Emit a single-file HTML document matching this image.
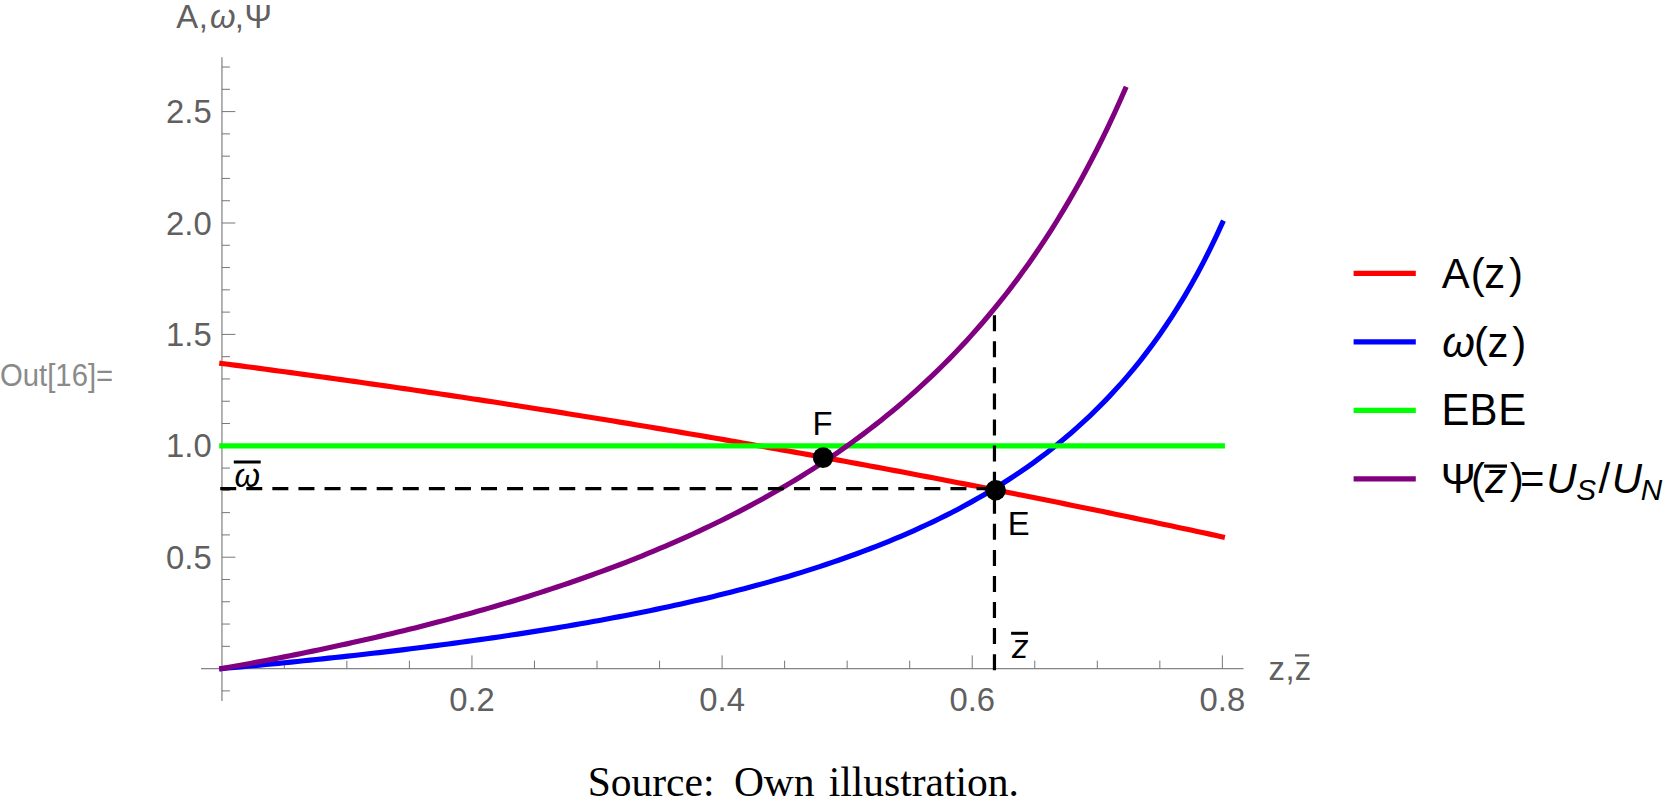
<!DOCTYPE html>
<html lang="en"><head><meta charset="utf-8"><title>Plot</title>
<style>html,body{margin:0;padding:0;background:#fff;}body{width:1663px;height:809px;overflow:hidden;}svg{display:block;}text{font-family:"Liberation Sans",Arial,Helvetica,sans-serif;}.tk{font-size:32.8px;fill:#606060;}.lg{font-size:41.9px;fill:#000;}.bl{font-size:32.8px;fill:#000;}.it{font-style:italic;}.sub{font-size:29.7px;font-style:italic;}.cap{font-family:"Liberation Serif","Times New Roman",Times,serif;font-size:41.5px;fill:#000;}.out{font-size:29.3px;fill:#8a8a8a;}</style></head><body>
<svg width="1663" height="809" viewBox="0 0 1663 809">
<rect width="1663" height="809" fill="#fff"/>
<g stroke="#858585" stroke-width="1.25" fill="none">
<line x1="221.95" y1="57.3" x2="221.95" y2="700.9"/>
<line x1="201" y1="668.60" x2="1243.5" y2="668.60"/>
</g>
<g stroke="#707070" stroke-width="0.95" fill="none">
<line x1="221.95" y1="690.88" x2="229.95" y2="690.88"/>
<line x1="221.95" y1="646.32" x2="229.95" y2="646.32"/>
<line x1="221.95" y1="624.04" x2="229.95" y2="624.04"/>
<line x1="221.95" y1="601.76" x2="229.95" y2="601.76"/>
<line x1="221.95" y1="579.48" x2="229.95" y2="579.48"/>
<line x1="221.95" y1="557.20" x2="235.35" y2="557.20"/>
<line x1="221.95" y1="534.92" x2="229.95" y2="534.92"/>
<line x1="221.95" y1="512.64" x2="229.95" y2="512.64"/>
<line x1="221.95" y1="490.36" x2="229.95" y2="490.36"/>
<line x1="221.95" y1="468.08" x2="229.95" y2="468.08"/>
<line x1="221.95" y1="445.80" x2="235.35" y2="445.80"/>
<line x1="221.95" y1="423.52" x2="229.95" y2="423.52"/>
<line x1="221.95" y1="401.24" x2="229.95" y2="401.24"/>
<line x1="221.95" y1="378.96" x2="229.95" y2="378.96"/>
<line x1="221.95" y1="356.68" x2="229.95" y2="356.68"/>
<line x1="221.95" y1="334.40" x2="235.35" y2="334.40"/>
<line x1="221.95" y1="312.12" x2="229.95" y2="312.12"/>
<line x1="221.95" y1="289.84" x2="229.95" y2="289.84"/>
<line x1="221.95" y1="267.56" x2="229.95" y2="267.56"/>
<line x1="221.95" y1="245.28" x2="229.95" y2="245.28"/>
<line x1="221.95" y1="223.00" x2="235.35" y2="223.00"/>
<line x1="221.95" y1="200.72" x2="229.95" y2="200.72"/>
<line x1="221.95" y1="178.44" x2="229.95" y2="178.44"/>
<line x1="221.95" y1="156.16" x2="229.95" y2="156.16"/>
<line x1="221.95" y1="133.88" x2="229.95" y2="133.88"/>
<line x1="221.95" y1="111.60" x2="235.35" y2="111.60"/>
<line x1="221.95" y1="89.32" x2="229.95" y2="89.32"/>
<line x1="221.95" y1="67.04" x2="229.95" y2="67.04"/>
<line x1="284.34" y1="668.60" x2="284.34" y2="660.60"/>
<line x1="346.87" y1="668.60" x2="346.87" y2="660.60"/>
<line x1="409.41" y1="668.60" x2="409.41" y2="660.60"/>
<line x1="471.94" y1="668.60" x2="471.94" y2="655.40"/>
<line x1="534.48" y1="668.60" x2="534.48" y2="660.60"/>
<line x1="597.01" y1="668.60" x2="597.01" y2="660.60"/>
<line x1="659.55" y1="668.60" x2="659.55" y2="660.60"/>
<line x1="722.08" y1="668.60" x2="722.08" y2="655.40"/>
<line x1="784.62" y1="668.60" x2="784.62" y2="660.60"/>
<line x1="847.15" y1="668.60" x2="847.15" y2="660.60"/>
<line x1="909.69" y1="668.60" x2="909.69" y2="660.60"/>
<line x1="972.22" y1="668.60" x2="972.22" y2="655.40"/>
<line x1="1034.76" y1="668.60" x2="1034.76" y2="660.60"/>
<line x1="1097.29" y1="668.60" x2="1097.29" y2="660.60"/>
<line x1="1159.83" y1="668.60" x2="1159.83" y2="660.60"/>
<line x1="1222.36" y1="668.60" x2="1222.36" y2="655.40"/>
</g>
<text class="tk" transform="matrix(1 0 0 1.04 211.70 568.70)" text-anchor="end">0.5</text>
<text class="tk" transform="matrix(1 0 0 1.04 211.70 457.30)" text-anchor="end">1.0</text>
<text class="tk" transform="matrix(1 0 0 1.04 211.70 345.90)" text-anchor="end">1.5</text>
<text class="tk" transform="matrix(1 0 0 1.04 211.70 234.50)" text-anchor="end">2.0</text>
<text class="tk" transform="matrix(1 0 0 1.04 211.70 123.10)" text-anchor="end">2.5</text>
<text class="tk" transform="matrix(1 0 0 1.04 471.94 711.20)" text-anchor="middle">0.2</text>
<text class="tk" transform="matrix(1 0 0 1.04 722.08 711.20)" text-anchor="middle">0.4</text>
<text class="tk" transform="matrix(1 0 0 1.04 972.22 711.20)" text-anchor="middle">0.6</text>
<text class="tk" transform="matrix(1 0 0 1.04 1222.36 711.20)" text-anchor="middle">0.8</text>
<text class="tk" y="27.7"><tspan x="176.24">A</tspan><tspan x="198.80">,</tspan><tspan class="it" x="209.93">ω</tspan><tspan x="234.85">,</tspan><tspan x="244.38">Ψ</tspan></text>
<text class="tk" y="680.0"><tspan x="1268.47">z</tspan><tspan x="1285.45">,</tspan><tspan x="1294.67">z</tspan></text>
<line x1="1295.0" y1="655.4" x2="1309.2" y2="655.4" stroke="#606060" stroke-width="2.3"/>
<g fill="none" stroke-width="5.15" stroke-linecap="square" stroke-linejoin="round">
<path d="M221.80,363.43 L228.09,364.25 L234.39,365.08 L240.68,365.91 L246.97,366.74 L253.26,367.57 L259.56,368.41 L265.85,369.25 L272.14,370.10 L278.44,370.95 L284.73,371.80 L291.02,372.65 L297.31,373.51 L303.61,374.37 L309.90,375.24 L316.19,376.11 L322.49,376.98 L328.78,377.86 L335.07,378.74 L341.36,379.62 L347.66,380.51 L353.95,381.40 L360.24,382.29 L366.54,383.19 L372.83,384.08 L379.12,384.99 L385.41,385.89 L391.71,386.80 L398.00,387.72 L404.29,388.64 L410.58,389.56 L416.88,390.48 L423.17,391.41 L429.46,392.34 L435.76,393.27 L442.05,394.21 L448.34,395.15 L454.63,396.09 L460.93,397.04 L467.22,397.99 L473.51,398.95 L479.81,399.90 L486.10,400.86 L492.39,401.83 L498.68,402.80 L504.98,403.77 L511.27,404.74 L517.56,405.72 L523.86,406.70 L530.15,407.69 L536.44,408.68 L542.73,409.67 L549.03,410.66 L555.32,411.66 L561.61,412.66 L567.91,413.67 L574.20,414.68 L580.49,415.69 L586.78,416.71 L593.08,417.73 L599.37,418.75 L605.66,419.77 L611.96,420.80 L618.25,421.84 L624.54,422.87 L630.83,423.91 L637.13,424.95 L643.42,426.00 L649.71,427.05 L656.01,428.10 L662.30,429.16 L668.59,430.22 L674.88,431.28 L681.18,432.35 L687.47,433.42 L693.76,434.49 L700.06,435.57 L706.35,436.65 L712.64,437.74 L718.93,438.82 L725.23,439.91 L731.52,441.01 L737.81,442.11 L744.10,443.21 L750.40,444.31 L756.69,445.42 L762.98,446.53 L769.28,447.64 L775.57,448.76 L781.86,449.88 L788.15,451.01 L794.45,452.14 L800.74,453.27 L807.03,454.40 L813.33,455.54 L819.62,456.68 L825.91,457.83 L832.20,458.98 L838.50,460.13 L844.79,461.28 L851.08,462.44 L857.38,463.61 L863.67,464.77 L869.96,465.94 L876.25,467.11 L882.55,468.29 L888.84,469.47 L895.13,470.65 L901.43,471.84 L907.72,473.03 L914.01,474.22 L920.30,475.42 L926.60,476.62 L932.89,477.82 L939.18,479.03 L945.48,480.24 L951.77,481.45 L958.06,482.67 L964.35,483.89 L970.65,485.11 L976.94,486.34 L983.23,487.57 L989.53,488.80 L995.82,490.04 L1002.11,491.28 L1008.40,492.52 L1014.70,493.77 L1020.99,495.02 L1027.28,496.28 L1033.58,497.53 L1039.87,498.80 L1046.16,500.06 L1052.45,501.33 L1058.75,502.60 L1065.04,503.87 L1071.33,505.15 L1077.62,506.43 L1083.92,507.72 L1090.21,509.01 L1096.50,510.30 L1102.80,511.59 L1109.09,512.89 L1115.38,514.19 L1121.67,515.50 L1127.97,516.81 L1134.26,518.12 L1140.55,519.44 L1146.85,520.76 L1153.14,522.08 L1159.43,523.40 L1165.72,524.73 L1172.02,526.07 L1178.31,527.40 L1184.60,528.74 L1190.90,530.09 L1197.19,531.43 L1203.48,532.78 L1209.77,534.13 L1216.07,535.49 L1222.36,536.85" stroke="#ff0000"/>
<path d="M221.80,668.60 L228.09,668.04 L234.39,667.47 L240.68,666.89 L246.97,666.31 L253.26,665.73 L259.56,665.13 L265.85,664.53 L272.14,663.93 L278.44,663.32 L284.73,662.70 L291.02,662.07 L297.31,661.44 L303.61,660.80 L309.90,660.16 L316.19,659.51 L322.49,658.85 L328.78,658.18 L335.07,657.51 L341.36,656.82 L347.66,656.14 L353.95,655.44 L360.24,654.73 L366.54,654.02 L372.83,653.30 L379.12,652.57 L385.41,651.83 L391.71,651.09 L398.00,650.33 L404.29,649.57 L410.58,648.80 L416.88,648.01 L423.17,647.22 L429.46,646.42 L435.76,645.61 L442.05,644.79 L448.34,643.96 L454.63,643.12 L460.93,642.27 L467.22,641.40 L473.51,640.53 L479.81,639.65 L486.10,638.75 L492.39,637.84 L498.68,636.93 L504.98,636.00 L511.27,635.05 L517.56,634.10 L523.86,633.13 L530.15,632.15 L536.44,631.15 L542.73,630.15 L549.03,629.13 L555.32,628.09 L561.61,627.04 L567.91,625.98 L574.20,624.90 L580.49,623.80 L586.78,622.69 L593.08,621.57 L599.37,620.43 L605.66,619.27 L611.96,618.09 L618.25,616.90 L624.54,615.69 L630.83,614.46 L637.13,613.21 L643.42,611.95 L649.71,610.66 L656.01,609.36 L662.30,608.03 L668.59,606.69 L674.88,605.32 L681.18,603.93 L687.47,602.52 L693.76,601.08 L700.06,599.63 L706.35,598.15 L712.64,596.64 L718.93,595.11 L725.23,593.55 L731.52,591.97 L737.81,590.36 L744.10,588.72 L750.40,587.05 L756.69,585.36 L762.98,583.63 L769.28,581.87 L775.57,580.08 L781.86,578.26 L788.15,576.41 L794.45,574.52 L800.74,572.59 L807.03,570.63 L813.33,568.63 L819.62,566.60 L825.91,564.52 L832.20,562.40 L838.50,560.24 L844.79,558.04 L851.08,555.79 L857.38,553.50 L863.67,551.16 L869.96,548.77 L876.25,546.32 L882.55,543.83 L888.84,541.29 L895.13,538.68 L901.43,536.02 L907.72,533.31 L914.01,530.53 L920.30,527.68 L926.60,524.78 L932.89,521.80 L939.18,518.75 L945.48,515.63 L951.77,512.44 L958.06,509.17 L964.35,505.81 L970.65,502.37 L976.94,498.85 L983.23,495.23 L989.53,491.52 L995.82,487.71 L1002.11,483.80 L1008.40,479.79 L1014.70,475.66 L1020.99,471.42 L1027.28,467.06 L1033.58,462.57 L1039.87,457.95 L1046.16,453.20 L1052.45,448.30 L1058.75,443.26 L1065.04,438.06 L1071.33,432.69 L1077.62,427.16 L1083.92,421.45 L1090.21,415.54 L1096.50,409.44 L1102.80,403.14 L1109.09,396.61 L1115.38,389.85 L1121.67,382.86 L1127.97,375.60 L1134.26,368.08 L1140.55,360.27 L1146.85,352.16 L1153.14,343.73 L1159.43,334.96 L1165.72,325.83 L1172.02,316.32 L1178.31,306.40 L1184.60,296.05 L1190.90,285.23 L1197.19,273.93 L1203.48,262.09 L1209.77,249.68 L1216.07,236.67 L1222.36,223.00" stroke="#0000ff"/>
<path d="M221.80,445.80 L1222.36,445.80" stroke="#00ff00"/>
<path d="M221.80,668.60 L227.48,667.58 L233.16,666.56 L238.84,665.52 L244.53,664.48 L250.21,663.42 L255.89,662.36 L261.57,661.28 L267.25,660.20 L272.93,659.10 L278.62,658.00 L284.30,656.88 L289.98,655.75 L295.66,654.62 L301.34,653.47 L307.02,652.31 L312.71,651.14 L318.39,649.95 L324.07,648.76 L329.75,647.55 L335.43,646.33 L341.11,645.10 L346.80,643.86 L352.48,642.60 L358.16,641.34 L363.84,640.05 L369.52,638.76 L375.20,637.45 L380.89,636.13 L386.57,634.79 L392.25,633.45 L397.93,632.08 L403.61,630.70 L409.29,629.31 L414.98,627.90 L420.66,626.48 L426.34,625.04 L432.02,623.59 L437.70,622.11 L443.38,620.63 L449.07,619.12 L454.75,617.60 L460.43,616.07 L466.11,614.51 L471.79,612.94 L477.47,611.35 L483.16,609.74 L488.84,608.12 L494.52,606.47 L500.20,604.81 L505.88,603.12 L511.56,601.42 L517.25,599.69 L522.93,597.95 L528.61,596.18 L534.29,594.39 L539.97,592.58 L545.65,590.75 L551.34,588.90 L557.02,587.02 L562.70,585.12 L568.38,583.19 L574.06,581.24 L579.74,579.27 L585.42,577.27 L591.11,575.25 L596.79,573.19 L602.47,571.12 L608.15,569.01 L613.83,566.88 L619.51,564.72 L625.20,562.53 L630.88,560.31 L636.56,558.06 L642.24,555.77 L647.92,553.46 L653.60,551.12 L659.29,548.74 L664.97,546.33 L670.65,543.88 L676.33,541.40 L682.01,538.89 L687.69,536.34 L693.38,533.75 L699.06,531.12 L704.74,528.45 L710.42,525.75 L716.10,523.00 L721.78,520.21 L727.47,517.38 L733.15,514.51 L738.83,511.59 L744.51,508.63 L750.19,505.61 L755.87,502.56 L761.56,499.45 L767.24,496.29 L772.92,493.08 L778.60,489.82 L784.28,486.50 L789.96,483.13 L795.65,479.71 L801.33,476.22 L807.01,472.68 L812.69,469.07 L818.37,465.40 L824.05,461.67 L829.74,457.87 L835.42,454.01 L841.10,450.07 L846.78,446.06 L852.46,441.98 L858.14,437.83 L863.83,433.59 L869.51,429.28 L875.19,424.88 L880.87,420.40 L886.55,415.84 L892.23,411.18 L897.92,406.43 L903.60,401.59 L909.28,396.65 L914.96,391.60 L920.64,386.46 L926.32,381.21 L932.00,375.84 L937.69,370.37 L943.37,364.77 L949.05,359.06 L954.73,353.21 L960.41,347.24 L966.09,341.14 L971.78,334.89 L977.46,328.51 L983.14,321.97 L988.82,315.28 L994.50,308.43 L1000.18,301.42 L1005.87,294.24 L1011.55,286.88 L1017.23,279.33 L1022.91,271.60 L1028.59,263.67 L1034.27,255.53 L1039.96,247.17 L1045.64,238.60 L1051.32,229.79 L1057.00,220.75 L1062.68,211.45 L1068.36,201.89 L1074.05,192.06 L1079.73,181.94 L1085.41,171.53 L1091.09,160.80 L1096.77,149.76 L1102.45,138.37 L1108.14,126.63 L1113.82,114.51 L1119.50,102.01 L1125.18,89.10" stroke="#800080"/>
</g>
<g fill="none" stroke="#000" stroke-width="3.2" stroke-dasharray="16 10.08">
<path d="M220.2,488.6 L995.6,488.6"/>
<path d="M994.45,670.2 L994.45,308"/>
</g>
<circle cx="823.1" cy="457.6" r="10.3" fill="#000"/>
<circle cx="995.6" cy="490.3" r="10.3" fill="#000"/>
<text class="bl" transform="matrix(1 0 0 1.04 812.51 434.80)">F</text>
<text class="bl" transform="matrix(1 0 0 1.04 1007.66 535.20)">E</text>
<text class="bl it" x="234.58" y="486.80">ω</text>
<line x1="233.8" y1="462" x2="260.7" y2="462" stroke="#000" stroke-width="3"/>
<text class="bl it" x="1012.09" y="657.90">z</text>
<line x1="1011.1" y1="633.3" x2="1028.0" y2="633.3" stroke="#000" stroke-width="3"/>
<line x1="1353.6" y1="273.3" x2="1415.8" y2="273.3" stroke="#ff0000" stroke-width="5.2"/>
<line x1="1353.6" y1="341.9" x2="1415.8" y2="341.9" stroke="#0000ff" stroke-width="5.2"/>
<line x1="1353.6" y1="410.3" x2="1415.8" y2="410.3" stroke="#00ff00" stroke-width="5.2"/>
<line x1="1353.6" y1="478.8" x2="1415.8" y2="478.8" stroke="#800080" stroke-width="5.2"/>
<text class="lg" y="287.85" x="1441.82 1470.80 1484.25 1508.95">A(z)</text>
<text class="lg" y="356.7"><tspan class="it" x="1442.33">ω</tspan><tspan x="1474.00 1487.55 1512.15">(z)</tspan></text>
<text class="lg" transform="matrix(1 0 0 1.04 0 424.85)" x="1441.39 1469.56 1498.16" y="0">EBE</text>
<text class="lg" y="493.3"><tspan x="1440.87 1471.10">Ψ(</tspan><tspan class="it" x="1485.15">z</tspan><tspan x="1509.75 1520.05">)=</tspan><tspan class="it" x="1546.37">U</tspan><tspan class="sub" x="1576.36" y="499.8">S</tspan><tspan x="1598.40" y="493.3">/</tspan><tspan class="it" x="1611.67">U</tspan><tspan class="sub" x="1640.69" y="499.8">N</tspan></text>
<line x1="1484.1" y1="466.1" x2="1507.0" y2="466.1" stroke="#000" stroke-width="3.2"/>
<text class="out" transform="matrix(1 0 0 1.045 0.01 385.90)">Out[16]=</text>
<text class="cap" y="796.2" xml:space="preserve"><tspan x="587.72">Source: </tspan><tspan x="733.90">Own </tspan><tspan x="828.73">illustration.</tspan></text>
</svg></body></html>
